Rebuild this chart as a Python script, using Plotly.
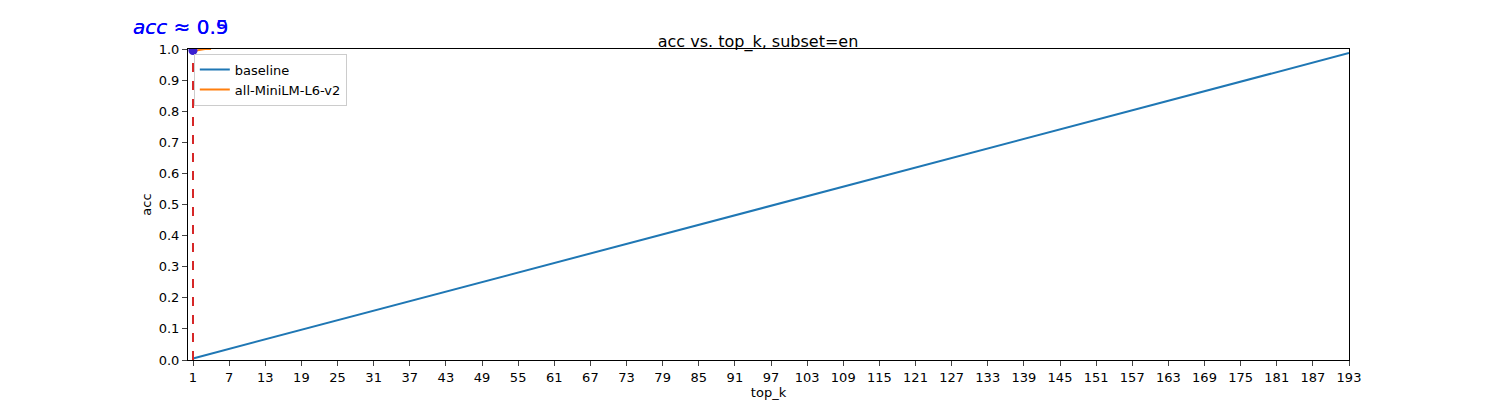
import plotly.graph_objects as go

# Data
tick_vals = list(range(1, 194, 6))
baseline_k = [1, 193]
baseline_acc = [0.005, 0.987]
model_k = [1, 2, 3, 4]
model_acc = [0.99, 0.997, 1.0, 1.0]
best_k = 1
best_acc = 0.995
labels = ["0.9", "0.5"]

fig = go.Figure()
fig.add_trace(go.Scatter(x=baseline_k, y=baseline_acc, mode='lines', name='baseline',
                         line=dict(color='#1f77b4', width=2)))
fig.add_trace(go.Scatter(x=model_k, y=model_acc, mode='lines', name='all-MiniLM-L6-v2',
                         line=dict(color='#ff7f0e', width=2)))
fig.add_trace(go.Scatter(x=[best_k, best_k], y=[0, 1], mode='lines', showlegend=False,
                         line=dict(color='#d62728', width=2, dash='dash')))
fig.add_trace(go.Scatter(x=[best_k], y=[best_acc], mode='markers', showlegend=False,
                         marker=dict(color='#3a1fd0', size=9)))

# both labels drawn at the same spot, overlapping like the original
for v in labels:
    fig.add_annotation(x=best_k, y=1.0, xref='x', yref='y', yshift=22, xshift=-12,
                       showarrow=False, text="<i>acc</i> ≈ " + v,
                       font=dict(size=20, color='blue', family='DejaVu Sans'))

fig.update_layout(
    width=1500, height=400,
    title=dict(text='acc vs. top_k, subset=en', x=0.5, xanchor='center', y=0.93,
               font=dict(size=16, color='black')),
    font=dict(family='DejaVu Sans', size=13, color='black'),
    plot_bgcolor='white', paper_bgcolor='white',
    margin=dict(l=180, r=159, t=41, b=43),
    legend=dict(x=0.005, y=0.985, xanchor='left', yanchor='top', bgcolor='rgba(255,255,255,0.8)',
                bordercolor='#cccccc', borderwidth=1, font=dict(size=13)),
)
fig.update_xaxes(range=[0.17, 193], tickvals=tick_vals, showgrid=False, zeroline=False,
                 showline=True, mirror=True, linecolor='black', ticks='outside',
                 title=dict(text='top_k', standoff=2, font=dict(size=13)))
fig.update_yaxes(range=[0, 1], dtick=0.1, tickformat='.1f', showgrid=False, zeroline=False,
                 showline=True, mirror=True, linecolor='black', ticks='outside',
                 title=dict(text='acc', standoff=4, font=dict(size=13)))

fig.write_html("out.html")
